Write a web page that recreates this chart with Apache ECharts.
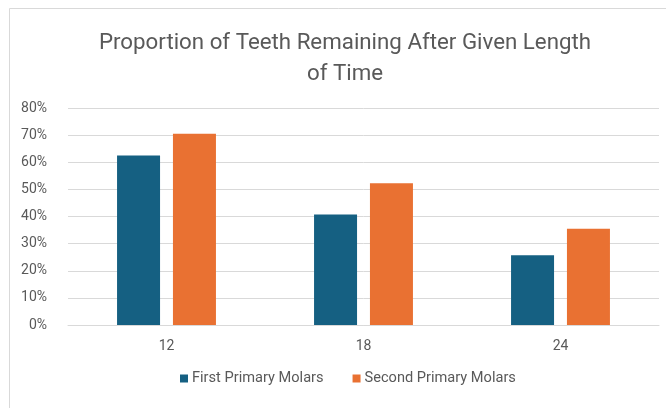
<!DOCTYPE html>
<html>
<head>
<meta charset="utf-8">
<script src="https://cdn.jsdelivr.net/npm/echarts@6/dist/echarts.min.js"></script>
<style>
  html, body { margin: 0; padding: 0; background: #fff; }
  #chart { width: 666px; height: 408px; }
</style>
</head>
<body>
<div id="chart"></div>
<script>
// Months elapsed
const categories = ['12', '18', '24'];
// Share of teeth still present
const firstPrimaryMolars = [0.625, 0.407, 0.257];
const secondPrimaryMolars = [0.705, 0.523, 0.355];
const seriesNames = ['First Primary Molars', 'Second Primary Molars'];
const titleText = 'Proportion of Teeth Remaining After Given Length\nof Time';

const textColor = '#595959';
const fontFamily = 'Roboto, "Open Sans", sans-serif';

const chart = echarts.init(document.getElementById('chart'), null, { renderer: 'canvas' });
chart.setOption({
  backgroundColor: '#ffffff',
  animation: false,
  graphic: [{
    type: 'rect',
    shape: { x: 9.5, y: 8.5, width: 700, height: 440 },
    style: { fill: 'none', stroke: '#d9d9d9', lineWidth: 1 },
    silent: true
  }],
  title: {
    text: titleText,
    left: 340,
    top: 23,
    textAlign: 'center',
    textStyle: {
      color: textColor,
      fontFamily: fontFamily,
      fontWeight: 'normal',
      fontSize: 22.3,
      lineHeight: 31
    }
  },
  legend: {
    data: seriesNames,
    bottom: 17,
    left: 175,
    itemWidth: 8,
    itemHeight: 8,
    itemGap: 29,
    icon: 'rect',
    textStyle: { color: textColor, fontFamily: fontFamily, fontSize: 14.6, padding: [0, 0, 0, -1] }
  },
  grid: { left: 68, right: 7, top: 108, bottom: 83, containLabel: false },
  xAxis: {
    type: 'category',
    data: categories,
    axisLine: { show: true, lineStyle: { color: '#d9d9d9', width: 1 } },
    axisTick: { show: false },
    axisLabel: { color: textColor, fontFamily: fontFamily, fontSize: 14, margin: 14 }
  },
  yAxis: {
    type: 'value',
    min: 0,
    max: 0.8,
    interval: 0.1,
    axisLine: { show: false },
    axisTick: { show: false },
    splitLine: { lineStyle: { color: '#d9d9d9', width: 1 } },
    axisLabel: {
      color: textColor,
      fontFamily: fontFamily,
      fontSize: 14,
      margin: 21,
      align: 'right',
      formatter: v => Math.round(v * 100) + '%'
    }
  },
  series: [
    {
      name: seriesNames[0],
      type: 'bar',
      data: firstPrimaryMolars,
      barWidth: 43,
      barGap: '30%',
      itemStyle: { color: '#156082' }
    },
    {
      name: seriesNames[1],
      type: 'bar',
      data: secondPrimaryMolars,
      barWidth: 43,
      barGap: '30%',
      itemStyle: { color: '#e97132' }
    }
  ]
});
</script>
</body>
</html>
